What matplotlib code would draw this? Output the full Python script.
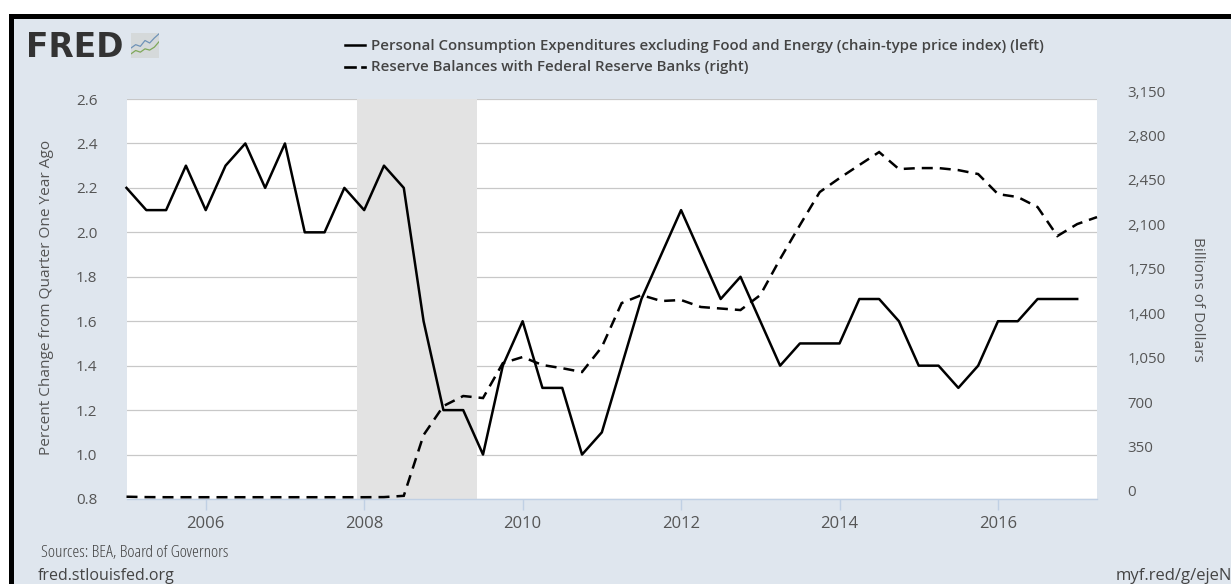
import numpy as np
import matplotlib
matplotlib.use('Agg')
import matplotlib.pyplot as plt
from matplotlib.lines import Line2D
from matplotlib.patches import Rectangle
from matplotlib.transforms import ScaledTranslation

W, H = 1231, 584
BG = '#dfe6ee'
TXT = '#555555'

# quarterly dates, 2005Q1 onwards
start_year = 2005
pce_values = [2.2, 2.1, 2.1, 2.3, 2.1, 2.3, 2.4, 2.2, 2.4, 2.0, 2.0, 2.2,
              2.1, 2.3, 2.2, 1.6, 1.2, 1.2, 1.0, 1.4, 1.6, 1.3, 1.3, 1.0,
              1.1, 1.4, 1.7, 1.9, 2.1, 1.9, 1.7, 1.8, 1.6, 1.4, 1.5, 1.5,
              1.5, 1.7, 1.7, 1.6, 1.4, 1.4, 1.3, 1.4, 1.6, 1.6, 1.7, 1.7, 1.7]
reserve_values = [18, 15, 14, 14, 14, 14, 14, 14, 14, 14, 14, 14,
                  14, 15, 25, 504, 732, 811, 795, 1070, 1118, 1055, 1030, 1000,
                  1197, 1543, 1606, 1559, 1567, 1512, 1500, 1488, 1606, 1890, 2157, 2417,
                  2527, 2630, 2732, 2598, 2606, 2606, 2590, 2559, 2401, 2378, 2299, 2071,
                  2165, 2220]
recession = [2007.91, 2009.43]

left_ticks = [0.8, 1.0, 1.2, 1.4, 1.6, 1.8, 2.0, 2.2, 2.4, 2.6]
right_ticks = [0, 350, 700, 1050, 1400, 1750, 2100, 2450, 2800, 3150]
year_ticks = [2006, 2008, 2010, 2012, 2014, 2016]

pce_dates = start_year + np.arange(len(pce_values)) * 0.25
reserve_dates = start_year + np.arange(len(reserve_values)) * 0.25

plt.rcParams['font.family'] = ['Open Sans', 'DejaVu Sans']

fig = plt.figure(figsize=(W / 100, H / 100), dpi=100, facecolor='white')

# panel and black frame (only top and left are visible in the crop)
fig.patches.append(Rectangle((14 / W, 0), 1, 1 - 19 / H, transform=fig.transFigure,
                             facecolor=BG, edgecolor='none', zorder=-2))
fig.patches.append(Rectangle((9 / W, 0), 5 / W, 1 - 14 / H, transform=fig.transFigure,
                             facecolor='black', edgecolor='none', zorder=-1))
fig.patches.append(Rectangle((9 / W, 1 - 19 / H), 1, 5 / H, transform=fig.transFigure,
                             facecolor='black', edgecolor='none', zorder=-1))

ax = fig.add_axes([126.5 / W, 1 - 499 / H, 970.5 / W, 400 / H])
ax.set_xlim(2005, 2017.25)
ax.set_ylim(0.8, 2.6)
ax.set_facecolor('white')
for s in ax.spines.values():
    s.set_visible(False)
ax.spines['bottom'].set_visible(True)
ax.spines['bottom'].set_color('#c0d0e4')
ax.spines['bottom'].set_linewidth(1.0)

ax.yaxis.grid(True, color='#c8c8c8', linewidth=0.9)
ax.set_axisbelow(True)
ax.axvspan(recession[0], recession[1], color='#e3e3e3', linewidth=0, zorder=1)

ax.set_xticks(year_ticks)
ax.set_xticklabels([str(y) for y in year_ticks])
ax.set_yticks(left_ticks)
ax.set_yticklabels([f'{v:.1f}' for v in left_ticks])
ax.tick_params(axis='x', length=8, width=1, color='#c0d0e4', labelcolor=TXT, labelsize=12, pad=4)
ax.tick_params(axis='y', length=0, labelcolor=TXT, labelsize=11, pad=21)
ax.set_ylabel('Percent Change from Quarter One Year Ago', color=TXT, fontsize=11.1, va='center')
ax.yaxis.set_label_coords((47 - 126.5) / 970.5, 0.505)

ax2 = ax.twinx()
ax2.set_ylim(0, 3150)
ax2.set_yticks(right_ticks)
ax2.set_yticklabels([f'{v:,}' for v in right_ticks])
ax2.tick_params(axis='y', length=0, labelcolor=TXT, labelsize=10.8, pad=22)
for lab in ax2.get_yticklabels():
    lab.set_transform(lab.get_transform() + ScaledTranslation(0, 8 / 100, fig.dpi_scale_trans))
for s in ax2.spines.values():
    s.set_visible(False)
ax2.set_ylabel('Billions of Dollars', color=TXT, fontsize=11.1, rotation=270, va='center')
ax2.yaxis.set_label_coords((1197 - 126.5) / 970.5, 0.5)

ax.plot(pce_dates, pce_values, color='black', linewidth=1.8, zorder=3, clip_on=False)
ax2.plot(reserve_dates, reserve_values, color='black', linewidth=1.8, clip_on=False,
         dashes=(4.4, 2.8), dash_capstyle='butt', dash_joinstyle='miter')

# legend, placed by hand like the FRED header
leg_names = ['Personal Consumption Expenditures excluding Food and Energy (chain-type price index) (left)',
             'Reserve Balances with Federal Reserve Banks (right)']
leg_y = [46, 67]
for name, y in zip(leg_names, leg_y):
    fig.text(371 / W, 1 - y / H, name, color='#444444', fontsize=10.8, va='center',
             fontweight='semibold', fontstretch='condensed')
fig.add_artist(Line2D([345 / W, 365 / W], [1 - 45 / H] * 2, color='black', linewidth=1.8))
fig.add_artist(Line2D([345 / W, 355 / W], [1 - 67 / H] * 2, color='black', linewidth=1.9))
fig.add_artist(Line2D([362 / W, 365 / W], [1 - 67 / H] * 2, color='black', linewidth=1.9))

# logo
fig.text(26 / W, 1 - 57 / H, 'FRED', family='DejaVu Sans', fontweight='bold', fontsize=23.7,
         color='#333333', va='baseline')
icon = fig.add_axes([131 / W, 1 - 58 / H, 28 / W, 25 / H], facecolor='#d5d9da')
icon.set_xticks([])
icon.set_yticks([])
icon.set_xlim(0, 6)
icon.set_ylim(0, 6)
for s in icon.spines.values():
    s.set_visible(False)
icon.plot([0, 1, 2, 3, 4, 5, 6], [2.4, 3.2, 2.8, 4.2, 3.6, 4.8, 5.8], color='#6f93b8', linewidth=0.9)
icon.plot([0, 1, 2, 3, 4, 5, 6], [1.0, 1.8, 1.4, 2.2, 1.9, 2.6, 3.9], color='#7fa85a', linewidth=0.9)

# footer
fig.text(41 / W, 1 - 553 / H, 'Sources: BEA, Board of Governors', color='#444444', fontsize=12.5,
         va='center', fontstretch='condensed')
fig.text(38 / W, 1 - 576 / H, 'fred.stlouisfed.org', color='#444444', fontsize=11.5, va='center')
fig.text(1116 / W, 1 - 576 / H, 'myf.red/g/ejeN', color='#444444', fontsize=12, va='center')

fig.savefig('out.png', dpi=100)
